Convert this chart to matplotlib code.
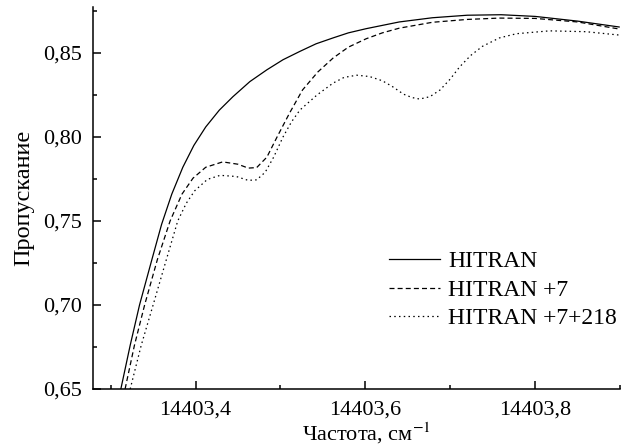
import matplotlib
matplotlib.use("Agg")
import matplotlib.pyplot as plt
from matplotlib.ticker import MultipleLocator, FuncFormatter

plt.rcParams['font.family'] = ['Liberation Serif', 'DejaVu Serif']
plt.rcParams['mathtext.fontset'] = 'stix'

# частота, см-1 / пропускание
x_hitran = [14403.312, 14403.323, 14403.334, 14403.348, 14403.360, 14403.372, 14403.385,
            14403.398, 14403.412, 14403.428, 14403.444, 14403.464, 14403.484, 14403.503,
            14403.523, 14403.542, 14403.562, 14403.580, 14403.601, 14403.640, 14403.679,
            14403.720, 14403.760, 14403.800, 14403.850, 14403.899]
y_hitran = [0.650, 0.676, 0.700, 0.726, 0.748, 0.766, 0.782,
            0.795, 0.806, 0.816, 0.824, 0.833, 0.840, 0.846,
            0.851, 0.8555, 0.859, 0.862, 0.8645, 0.8685, 0.871,
            0.8725, 0.8728, 0.8718, 0.869, 0.8655]

x_plus7 = [14403.317, 14403.328, 14403.340, 14403.355, 14403.370, 14403.384, 14403.397,
           14403.412, 14403.432, 14403.450, 14403.462, 14403.472, 14403.484, 14403.496,
           14403.511, 14403.526, 14403.544, 14403.562, 14403.580, 14403.601, 14403.620,
           14403.640, 14403.679, 14403.720, 14403.758, 14403.800, 14403.850, 14403.899]
y_plus7 = [0.650, 0.676, 0.700, 0.727, 0.750, 0.766, 0.7755,
           0.7820, 0.7852, 0.7838, 0.7815, 0.7818, 0.7880, 0.800,
           0.8145, 0.8280, 0.8387, 0.8470, 0.8535, 0.8585, 0.8620,
           0.8648, 0.8683, 0.8700, 0.8708, 0.8706, 0.8685, 0.8643]

x_plus218 = [14403.323, 14403.336, 14403.350, 14403.365, 14403.379, 14403.389, 14403.399,
             14403.414, 14403.429, 14403.448, 14403.462, 14403.472, 14403.482, 14403.492,
             14403.503, 14403.513, 14403.523, 14403.543, 14403.562, 14403.575, 14403.590,
             14403.605, 14403.620, 14403.632, 14403.645, 14403.655, 14403.664, 14403.676,
             14403.688, 14403.700, 14403.711, 14403.724, 14403.738, 14403.758, 14403.778,
             14403.817, 14403.860, 14403.899]
y_plus218 = [0.650, 0.676, 0.700, 0.726, 0.750, 0.7605, 0.768,
             0.7748, 0.7772, 0.7765, 0.7742, 0.7745, 0.779, 0.788,
             0.800, 0.809, 0.8161, 0.8250, 0.8321, 0.8355, 0.8368,
             0.8360, 0.8335, 0.8300, 0.8255, 0.8235, 0.8226, 0.8240,
             0.8280, 0.8345, 0.8417, 0.8485, 0.8540, 0.8590, 0.8615,
             0.8632, 0.8627, 0.8607]

labels = ['HITRAN', 'HITRAN +7', 'HITRAN +7+218']

fig = plt.figure(figsize=(6.34, 4.48), dpi=100)
ax = fig.add_axes([93/634, 1 - 389/448, 527/634, 382/448])

ax.plot(x_hitran, y_hitran, color='black', lw=0.9, label=labels[0])
ax.plot(x_plus7, y_plus7, color='black', lw=0.9, dashes=(4, 2.5), label=labels[1])
ax.plot(x_plus218, y_plus218, color='black', lw=0.9, dashes=(1.2, 2.6), label=labels[2])

ax.set_xlim(14403.2792, 14403.9)
ax.set_ylim(0.65, 0.8774)

ax.xaxis.set_major_locator(MultipleLocator(0.2))
ax.xaxis.set_minor_locator(MultipleLocator(0.1))
ax.yaxis.set_major_locator(MultipleLocator(0.05))
ax.yaxis.set_minor_locator(MultipleLocator(0.025))

ax.xaxis.set_major_formatter(FuncFormatter(lambda v, p: ('%.1f' % v).replace('.', ',')))
ax.yaxis.set_major_formatter(FuncFormatter(lambda v, p: ('%.2f' % v).replace('.', ',')))

ax.spines['top'].set_visible(False)
ax.spines['right'].set_visible(False)
for s in ['left', 'bottom']:
    ax.spines[s].set_linewidth(1.1)

ax.tick_params(which='both', direction='in', width=1.1, labelsize=16)
ax.tick_params(which='major', length=6)
ax.tick_params(which='minor', length=3)
ax.tick_params(axis='x', pad=8)
ax.tick_params(axis='y', pad=8)

ax.set_xlabel('Частота, см$^{-1}$', fontsize=16)
ax.xaxis.set_label_coords(0.518, -0.084)
ax.set_ylabel('Пропускание', fontsize=17.5, labelpad=6)

ax.legend(loc='upper left', bbox_to_anchor=(0.5617, 0.362), frameon=False,
          fontsize=17, borderpad=0, borderaxespad=0, labelspacing=0.3,
          handlelength=2.16, handletextpad=0.34)

fig.savefig('out.png', dpi=100)
